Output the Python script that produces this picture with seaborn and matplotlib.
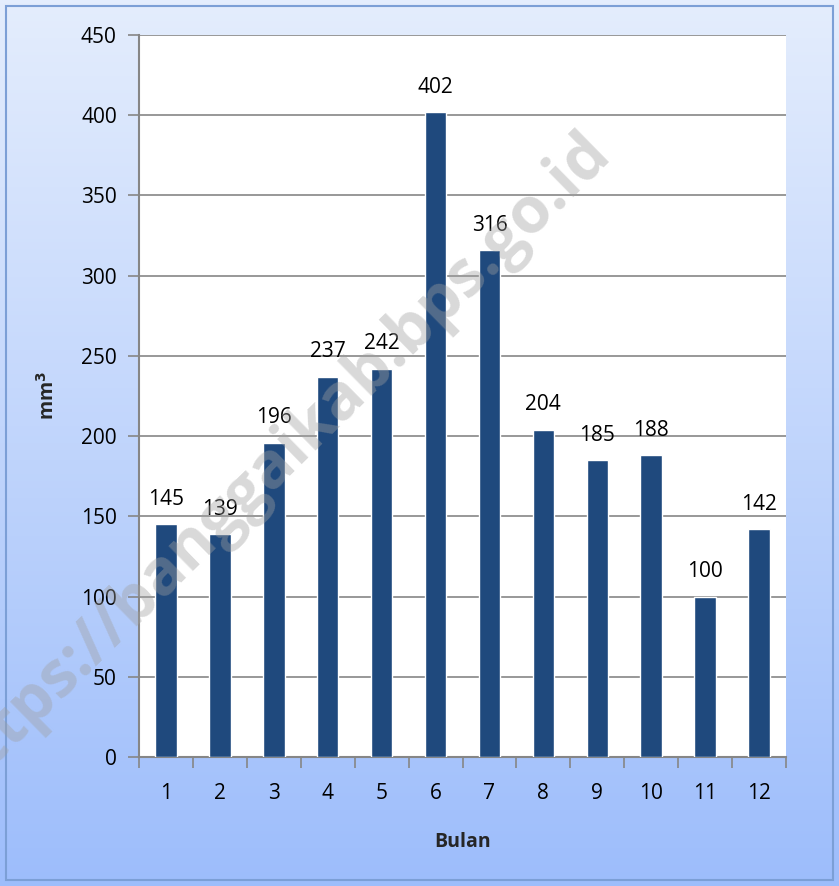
import numpy as np
import pandas as pd
import matplotlib
matplotlib.use("Agg")
import matplotlib.pyplot as plt
import seaborn as sns
from matplotlib.colors import LinearSegmentedColormap
from matplotlib.patches import Rectangle

months = ["1", "2", "3", "4", "5", "6", "7", "8", "9", "10", "11", "12"]
values = [145, 139, 196, 237, 242, 402, 316, 204, 185, 188, 100, 142]
y_ticks = [0, 50, 100, 150, 200, 250, 300, 350, 400, 450]

sns.set_theme(style="white")
plt.rcParams["font.family"] = ["Open Sans", "DejaVu Sans"]

df = pd.DataFrame({"Bulan": months, "mm3": values})

fig = plt.figure(figsize=(8.39, 8.86), dpi=100)

# gradient background
bg = fig.add_axes([0, 0, 1, 1], zorder=-10)
cmap = LinearSegmentedColormap.from_list("bg", ["#E4EDFD", "#9DBDFB"])
grad = np.linspace(0, 1, 256).reshape(-1, 1)
bg.imshow(grad, aspect="auto", cmap=cmap, extent=[0, 1, 0, 1], origin="upper")
bg.add_patch(Rectangle((6/839, 6/886), 1-12/839, 1-12/886, fill=False,
                       edgecolor="#7C9FD6", linewidth=1.5, transform=bg.transAxes))
bg.set_xlim(0, 1); bg.set_ylim(0, 1)
bg.axis("off")

ax = fig.add_axes([139/839, 1-757/886, (786-139)/839, (757-35)/886])
ax.set_facecolor("white")
sns.barplot(data=df, x="Bulan", y="mm3", color="#1F497D", width=0.4,
            saturation=1, ax=ax, zorder=3)
ax.set_ylim(0, 450)
ax.set_xlim(-0.5, 11.5)
ax.set_yticks(y_ticks)
ax.yaxis.grid(True, color="#868686", linewidth=1.2, zorder=0)
ax.set_axisbelow(True)
for s in ["top", "right"]:
    ax.spines[s].set_visible(False)
for s in ["left", "bottom"]:
    ax.spines[s].set_color("#868686")
    ax.spines[s].set_linewidth(1.5)

ax.tick_params(axis="y", which="major", length=8, width=1.2, color="#868686",
               left=True, labelsize=15, pad=8, labelcolor="black")
ax.set_xticks(range(len(months)))
ax.set_xticklabels(months)
ax.tick_params(axis="x", which="major", length=0, labelsize=15, pad=19, labelcolor="black")
ax.set_xticks(np.arange(-0.5, 12, 1), minor=True)
ax.tick_params(axis="x", which="minor", length=8, width=1.2, color="#868686", bottom=True)

for i, v in enumerate(values):
    ax.text(i, v + 9, str(v), ha="center", va="bottom", fontsize=15, color="black", zorder=5)

ax.set_xlabel("Bulan", fontsize=14, fontweight="bold", labelpad=20)
ax.set_ylabel("mm$^\\mathbf{3}$", fontsize=14, fontweight="bold", labelpad=16)

# watermark
fig.text(0.327, 0.478, "https://banggaikab.bps.go.id", rotation=44.5, ha="center",
         va="center", fontsize=46, fontweight="bold", color="#A0A0A0", alpha=0.4,
         zorder=10)

fig.savefig("out.png", dpi=100)
